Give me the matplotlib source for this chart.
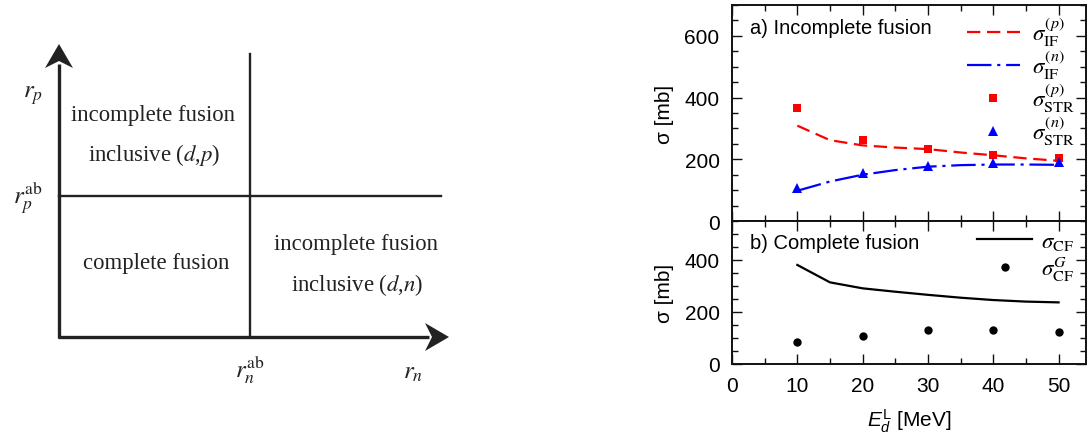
import matplotlib
matplotlib.use("Agg")
import matplotlib.pyplot as plt
from matplotlib.patches import Polygon
from matplotlib.ticker import MultipleLocator

# ---------------- data ----------------
E_line = [10, 15, 20, 25, 30, 35, 40, 45, 50]
sigma_IF_p = [309, 262, 245, 238, 233, 222, 213, 203, 195]
sigma_IF_n = [98, 128, 150, 165, 176, 181, 183, 183, 182]
E_pts = [10, 20, 30, 40, 50]
sigma_STR_p = [365, 264, 233, 215, 204]
sigma_STR_n = [106, 155, 179, 188, 190]
sigma_CF = [381, 314, 291, 278, 266, 255, 246, 240, 237]
sigma_CF_G = [83, 106, 130, 130, 124]

# schematic (left) in pixel coordinates
origin = (59, 338)
x_arrow_tip = 449
y_arrow_tip = 45
r_n_ab_x = 250
r_p_ab_y = 197
vline_top = 55
hline_right = 441

plt.rcParams['font.family'] = ['Liberation Sans', 'DejaVu Sans']
plt.rcParams['mathtext.fontset'] = 'custom'
plt.rcParams['mathtext.rm'] = 'Liberation Sans'
plt.rcParams['mathtext.it'] = 'Liberation Sans:italic'

W, H = 1087, 439
fig = plt.figure(figsize=(W / 100, H / 100), dpi=100)

# ---------------- left schematic ----------------
ax0 = fig.add_axes([0, 0, 460 / W, 1])
ax0.set_xlim(0, 460)
ax0.set_ylim(H, 0)
ax0.axis('off')
ox, oy = origin
ink = '#222222'
ax0.plot([ox, ox], [oy + 1, y_arrow_tip + 20], color=ink, lw=2.4, solid_capstyle='butt')
ax0.plot([ox - 1, x_arrow_tip - 20], [oy, oy], color=ink, lw=2.4, solid_capstyle='butt')
ax0.plot([r_n_ab_x, r_n_ab_x], [vline_top, oy], color=ink, lw=1.7)
ax0.plot([ox, hline_right], [r_p_ab_y, r_p_ab_y], color=ink, lw=1.7)
ax0.add_patch(Polygon([[ox, y_arrow_tip], [ox + 14, y_arrow_tip + 24], [ox, y_arrow_tip + 17],
                       [ox - 14, y_arrow_tip + 24]], closed=True, color=ink, lw=0))
ax0.add_patch(Polygon([[x_arrow_tip, oy], [x_arrow_tip - 24, oy - 14], [x_arrow_tip - 17, oy],
                       [x_arrow_tip - 24, oy + 14]], closed=True, color=ink, lw=0))

serif = dict(family='Liberation Serif', fontsize=16.4, color=ink, ha='center', va='center',
             math_fontfamily='stix')
ax0.text(153, 116, 'incomplete fusion', **serif)
ax0.text(154, 155, 'inclusive ($d$,$p$)', **serif)
ax0.text(156, 264, 'complete fusion', **serif)
ax0.text(356, 245, 'incomplete fusion', **serif)
ax0.text(357, 285, 'inclusive ($d$,$n$)', **serif)
rl = dict(fontsize=18, color=ink, ha='center', va='center', math_fontfamily='stix')
ax0.text(33, 95, r'$r_p$', **rl)
ax0.text(28, 198, r'$r_p^{\mathrm{ab}}$', **rl)
ax0.text(250, 370, r'$r_n^{\mathrm{ab}}$', **rl)
ax0.text(413, 372, r'$r_n$', **rl)

# ---------------- right panels ----------------
x0 = 732 / W
wd = (1086 - 732) / W
axa = fig.add_axes([x0, 1 - 222 / H, wd, (222 - 6) / H])
axb = fig.add_axes([x0, 1 - 365 / H, wd, (365 - 222) / H])

fs = 15
for ax in (axa, axb):
    ax.set_xlim(0, 54.2)
    ax.xaxis.set_major_locator(MultipleLocator(10))
    ax.xaxis.set_minor_locator(MultipleLocator(5))
    ax.yaxis.set_major_locator(MultipleLocator(200))
    ax.yaxis.set_minor_locator(MultipleLocator(50))
    ax.tick_params(which='both', direction='in', top=True, right=True, labelsize=fs, width=1.0,
                   color='#111111')
    ax.tick_params(which='major', length=7)
    ax.tick_params(which='minor', length=4)
    ax.tick_params(axis='y', pad=9)
    ax.tick_params(axis='x', pad=9)
    for s in ax.spines.values():
        s.set_linewidth(1.4)
        s.set_color('#111111')
    ax.set_ylabel(r'σ [mb]', fontsize=fs)

axa.set_ylim(0, 700)
axb.set_ylim(0, 550)
axa.tick_params(labelbottom=False)
axa.yaxis.set_label_coords(-0.163, 0.5)
axb.yaxis.set_label_coords(-0.163, 0.5)

# panel a
la, = axa.plot(E_line, sigma_IF_p, color='#ff0000', lw=1.6, dashes=(6, 3),
               label=r'$\sigma^{(p)}_{\mathrm{IF}}$')
lb, = axa.plot(E_line, sigma_IF_n, color='#0000ff', lw=1.6, dashes=(11, 2.6, 1.4, 2.6),
               label=r'$\sigma^{(n)}_{\mathrm{IF}}$')
lc, = axa.plot(E_pts, sigma_STR_p, 's', color='#ff0000', ms=6, mew=0,
               label=r'$\sigma^{(p)}_{\mathrm{STR}}$')
ld, = axa.plot(E_pts, sigma_STR_n, '^', color='#0000ff', ms=7, mew=0,
               label=r'$\sigma^{(n)}_{\mathrm{STR}}$')
fig.text(750 / W, 1 - 28 / H, 'a) Incomplete fusion', fontsize=14.5, va='center', ha='left')

leg = axa.legend(handles=[la, lb, lc, ld], loc='upper left',
                 bbox_to_anchor=(967 / W, 1 - 16 / H), bbox_transform=fig.transFigure,
                 frameon=False, fontsize=16.5, handlelength=2.3, handletextpad=0.55,
                 labelspacing=-0.02, borderpad=0, borderaxespad=0)
for t in leg.get_texts():
    t.set_math_fontfamily('stix')

# panel b
le, = axb.plot(E_line, sigma_CF, color='black', lw=1.6, label=r'$\sigma_{\mathrm{CF}}$')
lf, = axb.plot(E_pts, sigma_CF_G, 'o', color='black', ms=6, mew=0,
               label=r'$\sigma^{G}_{\mathrm{CF}}$')
fig.text(750 / W, 1 - 244 / H, 'b) Complete fusion', fontsize=14.5, va='center', ha='left')
axb.set_xlabel(r'$E_d^{\mathrm{L}}$ [MeV]', fontsize=fs, labelpad=8)
legb = axb.legend(handles=[le, lf], loc='upper left',
                  bbox_to_anchor=(977 / W, 1 - 230 / H), bbox_transform=fig.transFigure,
                  frameon=False, fontsize=16.5, handlelength=2.4, handletextpad=0.4,
                  labelspacing=0.1, borderpad=0, borderaxespad=0)
for t in legb.get_texts():
    t.set_math_fontfamily('stix')

fig.savefig('out.png', dpi=100)
